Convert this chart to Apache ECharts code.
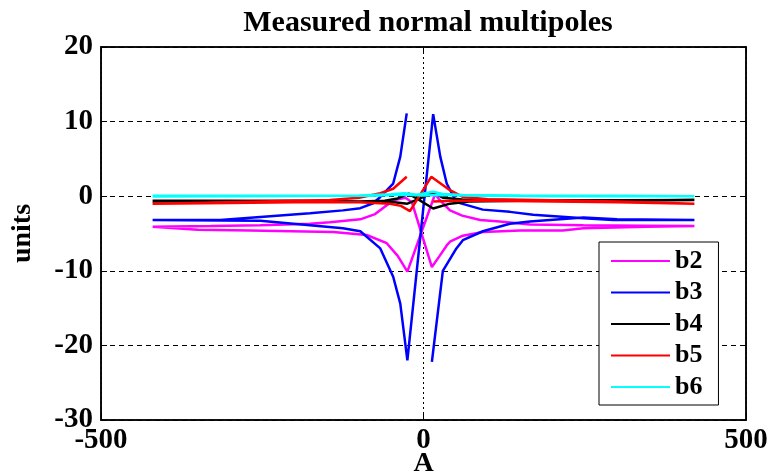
<!DOCTYPE html>
<html>
<head>
<meta charset="utf-8">
<script src="https://cdn.jsdelivr.net/npm/echarts@6/dist/echarts.min.js"></script>
<style>
html,body{margin:0;padding:0;background:#fff;}
#chart{width:769px;height:476px;}
</style>
</head>
<body>
<div id="chart"></div>
<script>
var titleText = 'Measured normal multipoles';
var xTicks = [-500, 0, 500];
var yTicks = [-30, -20, -10, 0, 10, 20];
var seriesNames = ['b2', 'b3', 'b4', 'b5', 'b6'];
var seriesColors = ['#ff00ff', '#0000ff', '#000000', '#ff0000', '#00ffff'];

// b2 (magenta)
var b2X = [-420,-330,-253,-176,-145,-98,-75,-60,-45,-28,-18,13,25,36,41,61,92,150,216,248,346,420,
           346,248,165,118,88,60,41,25,18,-25,-40,-57,-88,-140,-269,-350,-420];
var b2Y = [-4.1,-4.0,-3.9,-3.7,-3.5,-3.1,-2.4,-1.4,-0.5,-0.2,-0.8,-9.5,-8.0,-6.6,-6.1,-5.3,-4.8,-4.6,-4.6,-4.3,-4.1,-4.0,
           -3.95,-3.9,-3.8,-3.4,-3.2,-2.6,-1.9,-0.5,0.3,-10.1,-8.0,-6.3,-5.2,-4.8,-4.6,-4.5,-4.1];

// b3 (blue)
var b3X = [13,30,51,61,92,134,165,248,300,420,
           350,294,248,170,134,92,51,36,26,15,-25,-36,-47,-67,-98,-125,-176,-253,-315,-420,
           -315,-253,-176,-125,-98,-78,-67,-47,-36,-26];
var b3Y = [-22.2,-10.0,-7.0,-5.9,-4.7,-3.7,-3.4,-2.85,-3.1,-3.2,
           -3.2,-3.2,-2.95,-2.5,-2.1,-1.8,-0.8,1.7,5.3,11.0,-22.0,-14.4,-10.8,-7.0,-4.7,-4.3,-3.9,-3.3,-3.25,-3.2,
           -3.2,-2.8,-2.3,-1.9,-1.6,-0.95,-0.1,1.7,5.3,11.1];

// b4 (black)
var b4X = [-420,-300,-200,-100,-60,-40,-23,15,41,70,150,300,420,
           300,150,60,30,15,-5,-25,-45,-100,-200,-420];
var b4Y = [-0.6,-0.6,-0.65,-0.7,-0.6,-0.3,0.35,-1.65,-1.0,-0.7,-0.6,-0.6,-0.5,
           -0.55,-0.55,-0.45,-0.2,0.5,-0.3,-1.0,-0.8,-0.7,-0.6,-0.7];

// b5 (red)
var b5X = [15,50,100,200,300,420,
           300,200,100,61,41,12,-21,-35,-52,-100,-200,-300,-420,
           -300,-200,-145,-100,-67,-47,-26];
var b5Y = [-0.7,-0.6,-0.6,-0.7,-0.8,-1.0,
           -0.7,-0.55,-0.4,-0.1,0.8,2.6,-2.0,-1.3,-1.0,-0.8,-0.8,-0.9,-1.0,
           -0.8,-0.6,-0.5,-0.2,0.4,1.0,2.6];

// b6 (cyan)
var b6X = [-420,-200,-100,-50,-30,-10,15,30,60,150,300,420,
           200,80,30,0,-30,-80,-420];
var b6Y = [0.05,0.05,0.1,0.25,0.4,0.2,0.6,0.3,0.15,0.1,0.05,0.0,
           0.0,0.05,0.15,0.1,0.2,0.05,-0.05];

var xs = [b2X, b3X, b4X, b5X, b6X];
var ys = [b2Y, b3Y, b4Y, b5Y, b6Y];

function zip(a, b) { return a.map(function (v, i) { return [v, b[i]]; }); }

var font = 'Liberation Serif';
var series = seriesNames.map(function (n, i) {
  return {
    name: n, type: 'line', data: zip(xs[i], ys[i]),
    symbol: 'none', showSymbol: false,
    lineStyle: { color: seriesColors[i], width: 2.5 },
    itemStyle: { color: seriesColors[i] },
    animation: false, z: 2 + i
  };
});

var chart = echarts.init(document.getElementById('chart'));
chart.setOption({
  backgroundColor: '#fff',
  animation: false,
  title: {
    text: titleText, left: 423, top: 3, textAlign: 'center',
    textStyle: { fontFamily: font, fontWeight: 'bold', fontSize: 30, color: '#000' }
  },
  grid: { left: 101, right: 23, top: 47, bottom: 56, containLabel: false, outerBoundsMode: 'none',
          show: true, borderColor: '#000', borderWidth: 1.5, backgroundColor: 'transparent' },
  legend: {
    orient: 'vertical', left: 599, top: 242,
    padding: [6, 16, 5, 12],
    itemWidth: 59, itemHeight: 2, itemGap: 5.5,
    backgroundColor: '#fff', borderColor: '#000', borderWidth: 1,
    textStyle: { fontFamily: font, fontWeight: 'bold', fontSize: 26, color: '#000', lineHeight: 26 },
    data: seriesNames.map(function (n) { return { name: n, icon: 'rect' }; })
  },
  xAxis: [{
    type: 'value', min: xTicks[0], max: xTicks[xTicks.length - 1], interval: 500,
    name: 'A', nameLocation: 'middle', nameGap: 30, nameMoveOverlap: false,
    nameTextStyle: { fontFamily: font, fontWeight: 'bold', fontSize: 28, color: '#000', verticalAlign: 'top' },
    axisLine: { show: true, onZero: false, lineStyle: { color: '#000', width: 1.5 } },
    axisTick: { show: true, inside: true, length: 6, lineStyle: { color: '#000' } },
    axisLabel: { fontFamily: font, fontWeight: 'bold', fontSize: 29, color: '#000', margin: 6 },
    splitLine: { show: true, lineStyle: { color: '#000', type: [2, 3], width: 1 } }
  }, {
    type: 'value', position: 'top', min: xTicks[0], max: xTicks[xTicks.length - 1], interval: 500,
    axisLine: { show: true, onZero: false, lineStyle: { color: '#000', width: 1.5 } },
    axisTick: { show: true, inside: true, length: 6, lineStyle: { color: '#000' } },
    axisLabel: { show: false }, splitLine: { show: false }
  }],
  yAxis: [{
    type: 'value', min: yTicks[0], max: yTicks[yTicks.length - 1], interval: 10,
    name: 'units', nameLocation: 'middle', nameGap: 64, nameRotate: 90, nameMoveOverlap: false,
    nameTextStyle: { fontFamily: font, fontWeight: 'bold', fontSize: 28, color: '#000' },
    axisLine: { show: true, onZero: false, lineStyle: { color: '#000', width: 1.5 } },
    axisTick: { show: true, inside: true, length: 6, lineStyle: { color: '#000' } },
    axisLabel: { fontFamily: font, fontWeight: 'bold', fontSize: 29, color: '#000', margin: 8 },
    splitLine: { show: true, lineStyle: { color: '#000', type: [5, 4], width: 1 } }
  }, {
    type: 'value', position: 'right', min: yTicks[0], max: yTicks[yTicks.length - 1], interval: 10,
    axisLine: { show: true, onZero: false, lineStyle: { color: '#000', width: 1.5 } },
    axisTick: { show: true, inside: true, length: 6, lineStyle: { color: '#000' } },
    axisLabel: { show: false }, splitLine: { show: false }
  }],
  series: series
});
</script>
</body>
</html>
